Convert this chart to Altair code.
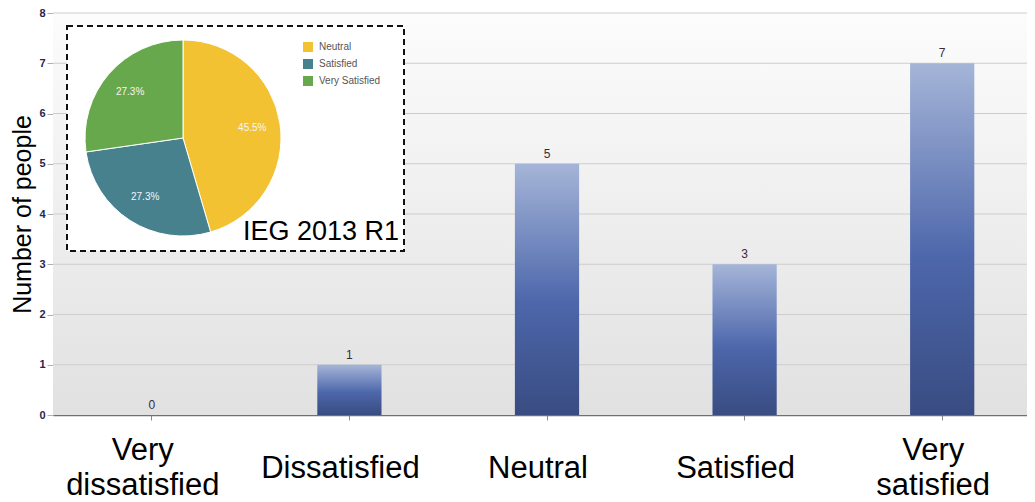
import altair as alt
import pandas as pd

# ---- data ----
categories = ["Very dissatisfied", "Dissatisfied", "Neutral", "Satisfied", "Very satisfied"]
counts = [0, 1, 5, 3, 7]
y_ticks = [0, 1, 2, 3, 4, 5, 6, 7, 8]
grid_values = [1, 2, 3, 4, 5, 6, 7, 8]

pie_categories = ["Neutral", "Satisfied", "Very Satisfied"]
pie_counts = [5, 3, 3]
pie_colors = ["#f2c232", "#47818e", "#67a84c"]
inset_title = "IEG 2013 R1"

W = 974
H = 402
FONT = "Liberation Sans"

bar_df = pd.DataFrame({"category": categories, "count": counts})
grid_df = pd.DataFrame({"v": grid_values})
total = sum(pie_counts)
pie_df = pd.DataFrame({
    "category": pie_categories,
    "count": pie_counts,
    "order": list(range(len(pie_categories))),
    "pct": [f"{c / total * 100:.1f}%" for c in pie_counts],
})

yscale = alt.Scale(domain=[0, 8])
ytitle = "Number of people"
xscale = alt.Scale(paddingInner=0.675, paddingOuter=0.3375, range=[0, 988])

bg = alt.Chart(alt.Data(values=[{}])).mark_rect(
    color=alt.Gradient(
        gradient="linear",
        stops=[alt.GradientStop(color="#fcfcfc", offset=0),
               alt.GradientStop(color="#e1e1e1", offset=1)],
        x1=0, x2=0, y1=0, y2=1,
    )
).encode(x=alt.value(0), x2=alt.value("width"), y=alt.value(0), y2=alt.value("height"))

grid = alt.Chart(grid_df).mark_rule(color="#cdcdcd", strokeWidth=1).encode(
    y=alt.Y("v:Q", scale=yscale, title=ytitle)
)

xenc = alt.X(
    "category:N",
    sort=categories,
    scale=xscale,
    axis=alt.Axis(
        title=None, labelAngle=0, labelFontSize=31, labelColor="#000000",
        labelExpr="split(datum.label, ' ')", labelLineHeight=35,
        labelBaseline="middle", labelOffset=-9,
        labelPadding={"condition": {"test": "indexof(datum.label, ' ') >= 0", "value": 30}, "value": 48},
        tickSize=5, tickColor="#8a8a8a", domainColor="#707070", domainWidth=1.5,
        labelFont=FONT,
    ),
)
yenc = alt.Y(
    "count:Q", scale=yscale, title=ytitle,
    axis=alt.Axis(
        values=y_ticks, grid=False, labelFontSize=11, labelFontWeight="bold",
        labelColor="#2b2350", tickSize=6, tickColor="#b0b0b0", labelPadding=2,
        domainColor="#9a9a9a", titleFontSize=25, titleFontWeight="normal",
        titleColor="#000000", titlePadding=3, titleFont=FONT, labelFont=FONT,
    ),
)

bars = alt.Chart(bar_df).mark_bar(
    color=alt.Gradient(
        gradient="linear",
        stops=[alt.GradientStop(color="#a5b5d8", offset=0),
               alt.GradientStop(color="#4d67ab", offset=0.55),
               alt.GradientStop(color="#394c82", offset=1)],
        x1=0, x2=0, y1=0, y2=1,
    ),
).encode(x=xenc, y=yenc)

bar_labels = alt.Chart(bar_df).mark_text(
    baseline="bottom", dy=-3, fontSize=12, color="#3a2a3a", font=FONT
).encode(x=alt.X("category:N", sort=categories, scale=xscale),
         y=alt.Y("count:Q", scale=yscale, title=ytitle),
         text="count:Q")

box = alt.Chart(alt.Data(values=[{}])).mark_rect(
    fill="white", stroke="#111111", strokeDash=[6, 4], strokeWidth=2
).encode(x=alt.value(14), x2=alt.value(351), y=alt.value(13), y2=alt.value(238))

pie_base = alt.Chart(pie_df).encode(
    theta=alt.Theta("count:Q", stack=True),
    order=alt.Order("order:Q"),
    x=alt.value(130), y=alt.value(125),
)
pie = pie_base.mark_arc(radius=98, stroke="#ffffff", strokeWidth=1).encode(
    color=alt.Color(
        "category:N",
        scale=alt.Scale(domain=pie_categories, range=pie_colors),
        legend=alt.Legend(
            orient="none", legendX=250, legendY=29, title=None,
            symbolType="square", symbolSize=100, symbolStrokeWidth=0,
            labelFontSize=10, labelColor="#555555", rowPadding=7,
            labelOffset=6, labelFont=FONT,
        ),
    )
)
pie_text = pie_base.mark_text(radius=70, fontSize=10, font=FONT).encode(
    text="pct:N", color=alt.value("#f6f6f6")
)

ieg = alt.Chart(alt.Data(values=[{"t": inset_title}])).mark_text(
    align="right", baseline="alphabetic", fontSize=27, color="#000000", font=FONT
).encode(x=alt.value(346), y=alt.value(227), text="t:N")

chart = alt.layer(bg, grid, bars, bar_labels, box, pie, pie_text, ieg).properties(
    width=W, height=H,
    autosize=alt.AutoSizeParams(type="none"),
    padding={"left": 45, "top": 5, "right": 0, "bottom": 86},
).configure_view(stroke=None).configure(font=FONT)

chart.save("out.html", embed_options={"renderer": "svg", "actions": False})
